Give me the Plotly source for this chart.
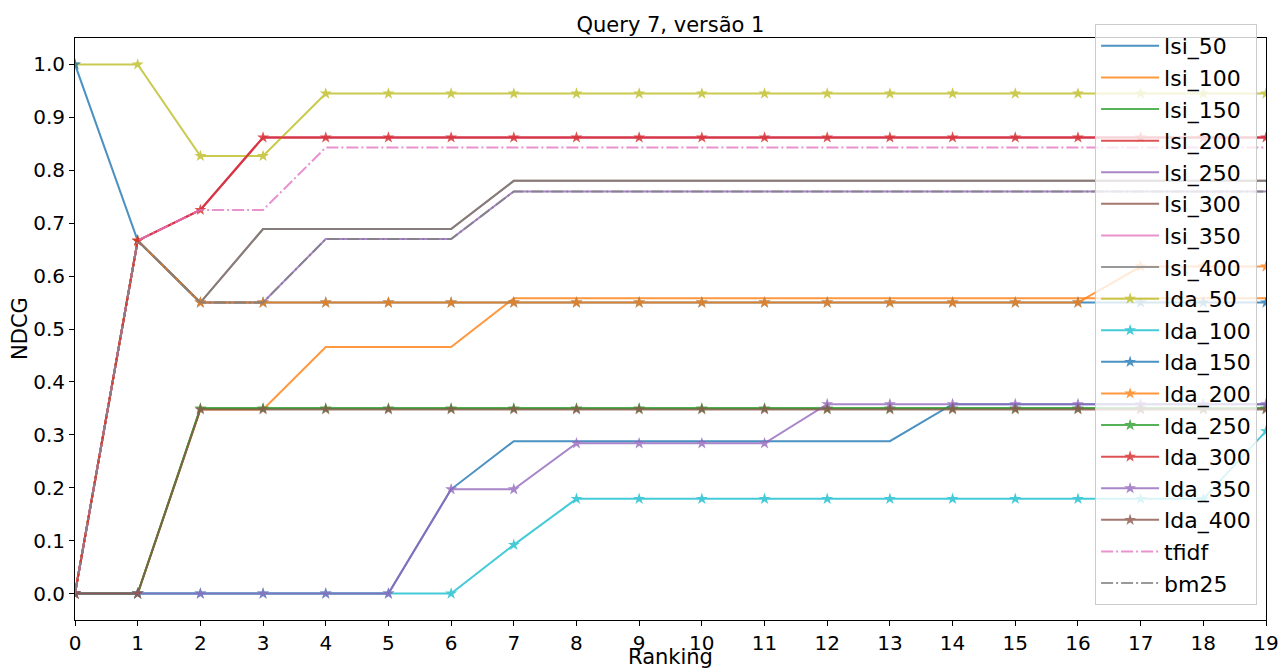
import plotly.graph_objects as go

ranking = list(range(20))

lsi_50 = [0, 0, 0, 0, 0, 0, 0.197, 0.288, 0.288, 0.288, 0.288, 0.288, 0.288, 0.288, 0.358, 0.358, 0.358, 0.358, 0.358, 0.358]
lsi_100 = [0, 0, 0.348, 0.348, 0.466, 0.466, 0.466, 0.558, 0.558, 0.558, 0.558, 0.558, 0.558, 0.558, 0.558, 0.558, 0.558, 0.558, 0.558, 0.558]
lsi_150 = [0, 0, 0.35, 0.35, 0.35, 0.35, 0.35, 0.35, 0.35, 0.35, 0.35, 0.35, 0.35, 0.35, 0.35, 0.35, 0.35, 0.35, 0.35, 0.35]
lsi_200 = [0, 0.667, 0.725, 0.862, 0.862, 0.862, 0.862, 0.862, 0.862, 0.862, 0.862, 0.862, 0.862, 0.862, 0.862, 0.862, 0.862, 0.862, 0.862, 0.862]
lsi_250 = [0, 0.667, 0.55, 0.55, 0.67, 0.67, 0.67, 0.76, 0.76, 0.76, 0.76, 0.76, 0.76, 0.76, 0.76, 0.76, 0.76, 0.76, 0.76, 0.76]
lsi_300 = [0, 0.667, 0.55, 0.689, 0.689, 0.689, 0.689, 0.78, 0.78, 0.78, 0.78, 0.78, 0.78, 0.78, 0.78, 0.78, 0.78, 0.78, 0.78, 0.78]
lsi_350 = [0, 0.667, 0.725, 0.862, 0.862, 0.862, 0.862, 0.862, 0.862, 0.862, 0.862, 0.862, 0.862, 0.862, 0.862, 0.862, 0.862, 0.862, 0.862, 0.862]
lsi_400 = [0, 0.667, 0.55, 0.689, 0.689, 0.689, 0.689, 0.78, 0.78, 0.78, 0.78, 0.78, 0.78, 0.78, 0.78, 0.78, 0.78, 0.78, 0.78, 0.78]
lda_50 = [1.0, 1.0, 0.827, 0.827, 0.945, 0.945, 0.945, 0.945, 0.945, 0.945, 0.945, 0.945, 0.945, 0.945, 0.945, 0.945, 0.945, 0.945, 0.945, 0.945]
lda_100 = [0, 0, 0, 0, 0, 0, 0, 0.092, 0.179, 0.179, 0.179, 0.179, 0.179, 0.179, 0.179, 0.179, 0.179, 0.179, 0.179, 0.307]
lda_150 = [1.0, 0.667, 0.55, 0.55, 0.55, 0.55, 0.55, 0.55, 0.55, 0.55, 0.55, 0.55, 0.55, 0.55, 0.55, 0.55, 0.55, 0.55, 0.55, 0.55]
lda_200 = [0, 0.667, 0.55, 0.55, 0.55, 0.55, 0.55, 0.55, 0.55, 0.55, 0.55, 0.55, 0.55, 0.55, 0.55, 0.55, 0.55, 0.618, 0.618, 0.618]
lda_250 = [0, 0, 0.35, 0.35, 0.35, 0.35, 0.35, 0.35, 0.35, 0.35, 0.35, 0.35, 0.35, 0.35, 0.35, 0.35, 0.35, 0.35, 0.35, 0.35]
lda_300 = [0, 0.667, 0.725, 0.862, 0.862, 0.862, 0.862, 0.862, 0.862, 0.862, 0.862, 0.862, 0.862, 0.862, 0.862, 0.862, 0.862, 0.862, 0.862, 0.862]
lda_350 = [0, 0, 0, 0, 0, 0, 0.197, 0.197, 0.284, 0.284, 0.284, 0.284, 0.358, 0.358, 0.358, 0.358, 0.358, 0.358, 0.358, 0.358]
lda_400 = [0, 0, 0.348, 0.348, 0.348, 0.348, 0.348, 0.348, 0.348, 0.348, 0.348, 0.348, 0.348, 0.348, 0.348, 0.348, 0.348, 0.348, 0.348, 0.348]
tfidf = [0, 0.667, 0.725, 0.725, 0.843, 0.843, 0.843, 0.843, 0.843, 0.843, 0.843, 0.843, 0.843, 0.843, 0.843, 0.843, 0.843, 0.843, 0.843, 0.843]
bm25 = [0, 0.667, 0.55, 0.55, 0.67, 0.67, 0.67, 0.76, 0.76, 0.76, 0.76, 0.76, 0.76, 0.76, 0.76, 0.76, 0.76, 0.76, 0.76, 0.76]

series_names = ["lsi_50", "lsi_100", "lsi_150", "lsi_200", "lsi_250", "lsi_300", "lsi_350", "lsi_400",
                "lda_50", "lda_100", "lda_150", "lda_200", "lda_250", "lda_300", "lda_350", "lda_400",
                "tfidf", "bm25"]
series_values = [lsi_50, lsi_100, lsi_150, lsi_200, lsi_250, lsi_300, lsi_350, lsi_400,
                 lda_50, lda_100, lda_150, lda_200, lda_250, lda_300, lda_350, lda_400,
                 tfidf, bm25]

tab10 = ["#1f77b4", "#ff7f0e", "#2ca02c", "#d62728", "#9467bd",
         "#8c564b", "#e377c2", "#7f7f7f", "#bcbd22", "#17becf"]

FONT = "DejaVu Sans"
fig = go.Figure()
for i, (name, vals) in enumerate(zip(series_names, series_values)):
    color = tab10[i % 10]
    if name.startswith("lda"):
        fig.add_trace(go.Scatter(x=ranking, y=vals, name=name, mode="lines+markers",
                                 line=dict(color=color, width=2),
                                 marker=dict(symbol="star", size=9, color=color),
                                 opacity=0.8))
    elif name in ("tfidf", "bm25"):
        fig.add_trace(go.Scatter(x=ranking, y=vals, name=name, mode="lines",
                                 line=dict(color=color, width=2, dash="12px,3px,2px,3px"),
                                 opacity=0.8))
    else:
        fig.add_trace(go.Scatter(x=ranking, y=vals, name=name, mode="lines",
                                 line=dict(color=color, width=2),
                                 opacity=0.8))

axis_common = dict(showgrid=False, zeroline=False, showline=True, linecolor="black",
                   linewidth=1, mirror=True, ticks="outside", ticklen=5, tickcolor="black",
                   tickfont=dict(family=FONT, size=20, color="black"), automargin=False)

fig.update_layout(
    width=1280, height=671,
    margin=dict(l=75, r=14, t=38, b=51),
    plot_bgcolor="white", paper_bgcolor="white",
    font=dict(family=FONT, size=21, color="black"),
    title=dict(text="Query 7, versão 1", x=0.5238, xanchor="center", y=1 - 25 / 671,
               yanchor="middle", font=dict(family=FONT, size=21, color="black")),
    xaxis=dict(range=[0, 19], tickmode="linear", tick0=0, dtick=1, **axis_common),
    yaxis=dict(range=[-0.05, 1.05], tickmode="linear", tick0=0, dtick=0.1, tickformat=".1f",
               **axis_common),
    legend=dict(x=0.8565, y=1.024, xanchor="left", yanchor="top", maxheight=650,
                itemwidth=58,
                bgcolor="rgba(255,255,255,0.8)", bordercolor="#cccccc", borderwidth=1,
                font=dict(family=FONT, size=22, color="black")),
    showlegend=True,
    annotations=[
        dict(text="Ranking", xref="paper", yref="paper", x=0.5, y=(620 - 670.5) / 582,
             xanchor="center", yanchor="bottom", showarrow=False,
             font=dict(family=FONT, size=21, color="black")),
        dict(text="NDCG", xref="paper", yref="paper", x=(20 - 75) / 1191, y=0.5,
             xanchor="center", yanchor="middle", textangle=-90, showarrow=False,
             font=dict(family=FONT, size=21, color="black")),
    ],
)

fig.write_html("out.html", config={"displayModeBar": False},
               post_script="document.body.style.margin='0';document.body.style.overflow='hidden';")
